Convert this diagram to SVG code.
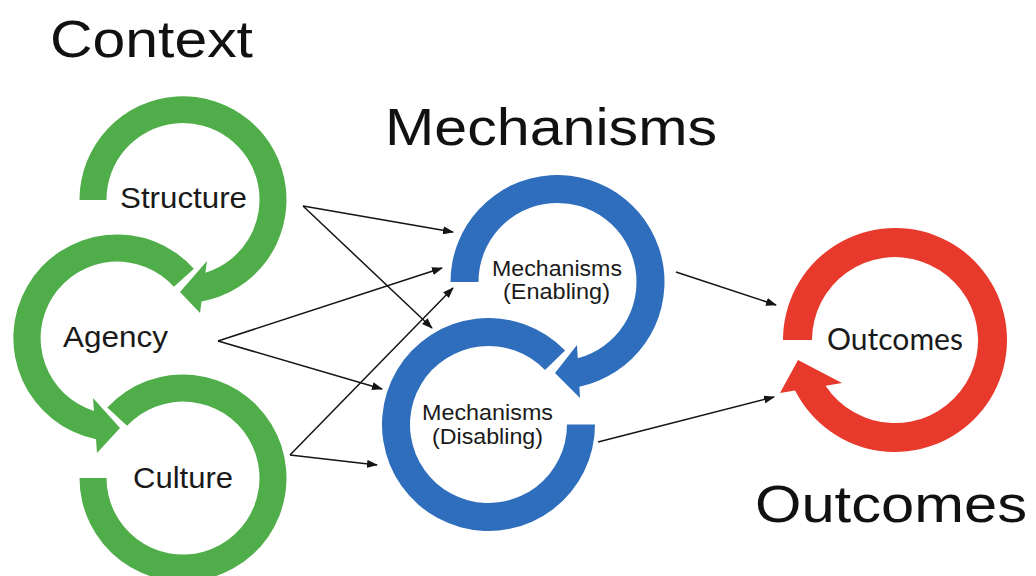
<svg xmlns="http://www.w3.org/2000/svg" width="1036" height="576" viewBox="0 0 1036 576">
<style>
.bg{fill:#ffffff}
.ring{stroke:#ffffff;stroke-width:4;paint-order:stroke;stroke-linejoin:miter}
.green{fill:#50ae4a}
.blue{fill:#2f6dbd}
.red{fill:#e83a2c}
.title{font-family:"Liberation Sans",Arial,Helvetica,sans-serif;font-size:52px;fill:#111111}
.lbl{font-family:"Liberation Sans",Arial,Helvetica,sans-serif;font-size:30px;fill:#1a1a1a;text-anchor:middle}
.mlbl{font-family:"Liberation Sans",Arial,Helvetica,sans-serif;font-size:22px;fill:#1a1a1a;text-anchor:middle}
.olbl{font-family:Lato,"Liberation Sans",sans-serif;font-size:30px;fill:#1a1a1a;text-anchor:middle}
.conn{stroke:#141414;stroke-width:1.5;fill:none;marker-end:url(#ah)}
</style>
<defs>
<marker id="ah" markerUnits="userSpaceOnUse" markerWidth="11" markerHeight="8" refX="10" refY="4" orient="auto">
<path d="M0,0 L11,4 L0,8 Z" fill="#141414"/>
</marker>
</defs>
<rect class="bg" x="0" y="0" width="1036" height="576"/>

<text class="title" x="50" y="57" textLength="203" lengthAdjust="spacingAndGlyphs">Context</text>
<text class="title" x="385" y="145" textLength="332" lengthAdjust="spacingAndGlyphs">Mechanisms</text>
<text class="title" x="755" y="522" textLength="272" lengthAdjust="spacingAndGlyphs">Outcomes</text>

<g id="culture">
<path class="ring green" d="M79.5,478 A103.5,103.5 0 1 0 107.3,407.4 L127.05,425.83 A76.5,76.5 0 1 1 106.5,478 Z"/>
<text class="lbl" x="183" y="488" textLength="100" lengthAdjust="spacingAndGlyphs">Culture</text>
</g>
<g id="agency">
<path class="ring green" d="M193.9,268.8 A103.5,103.5 0 1 0 96,439.3 L97,453 L120,428 L93,398 L94,411 A76.5,76.5 0 1 1 173.9,286.8 Z"/>
<text class="lbl" x="115.5" y="347" textLength="105" lengthAdjust="spacingAndGlyphs">Agency</text>
</g>
<g id="structure">
<path class="ring green" d="M79.5,200 A103.5,103.5 0 1 1 201.5,301.6 L200,313 L180,292 L207,261 L205.4,272.7 A76.5,76.5 0 1 0 106.5,200 Z"/>
<text class="lbl" x="183.5" y="208" textLength="127" lengthAdjust="spacingAndGlyphs">Structure</text>
</g>

<g id="disabling">
<path class="ring blue" d="M595,424.5 A106.5,106.5 0 1 1 565.1,350.5 L545,370 A78.5,78.5 0 1 0 567,424.5 Z"/>
<text class="mlbl" x="487.5" y="420" textLength="131" lengthAdjust="spacingAndGlyphs">Mechanisms</text>
<text class="mlbl" x="487.5" y="444" textLength="111" lengthAdjust="spacingAndGlyphs">(Disabling)</text>
</g>
<g id="enabling">
<path class="ring blue" d="M450.5,282 A107,107 0 1 1 579.4,386.7 L580,398 L555,373 L577,345 L577.75,358.25 A79,79 0 1 0 478.5,282 Z"/>
<text class="mlbl" x="557" y="276" textLength="130" lengthAdjust="spacingAndGlyphs">Mechanisms</text>
<text class="mlbl" x="556.5" y="299" textLength="107" lengthAdjust="spacingAndGlyphs">(Enabling)</text>
</g>

<g id="outcomes">
<path class="ring red" d="M783,340 A112,112 0 1 1 795.1,390.6 L780,393 L798,360 L842,383 L825.6,385.65 A83,83 0 1 0 812,340 Z"/>
<text class="olbl" x="895" y="350" textLength="136" lengthAdjust="spacingAndGlyphs">Outcomes</text>
</g>

<g id="connectors">
<line class="conn" x1="303" y1="206" x2="453" y2="232"/>
<line class="conn" x1="303" y1="206" x2="432" y2="328"/>
<line class="conn" x1="218" y1="341" x2="442" y2="268"/>
<line class="conn" x1="218" y1="341" x2="382" y2="389"/>
<line class="conn" x1="290" y1="455" x2="453" y2="288"/>
<line class="conn" x1="290" y1="455" x2="377" y2="465"/>
<line class="conn" x1="676" y1="272" x2="776" y2="305"/>
<line class="conn" x1="598" y1="442" x2="774" y2="397"/>
</g>
</svg>
